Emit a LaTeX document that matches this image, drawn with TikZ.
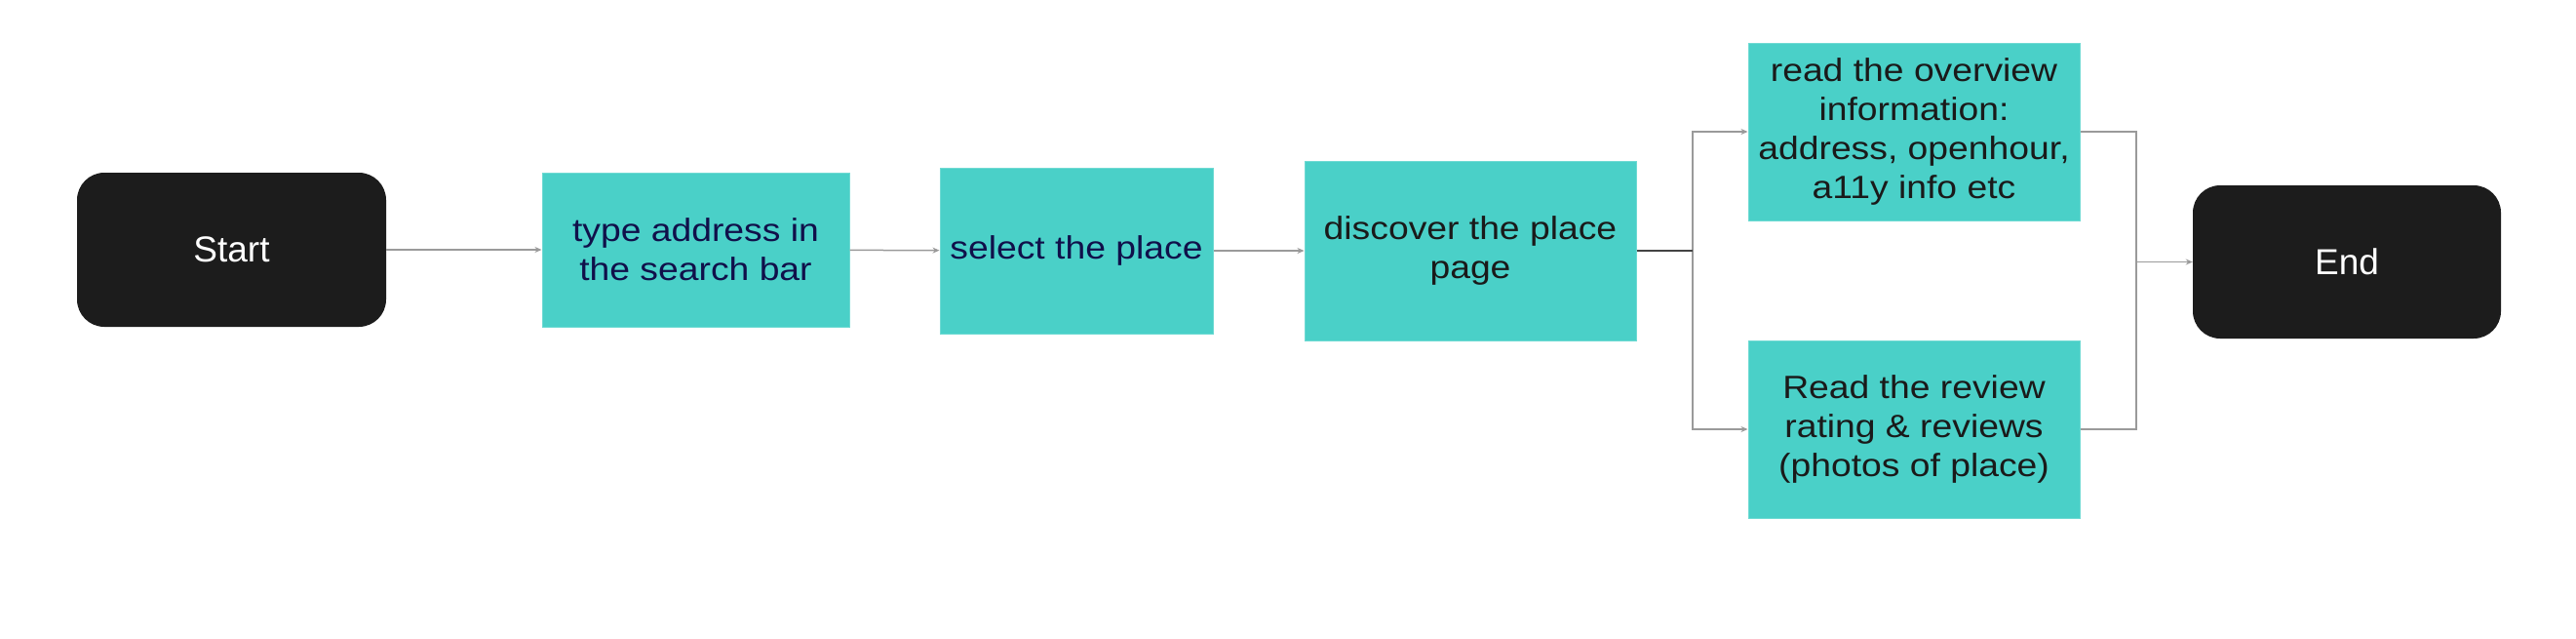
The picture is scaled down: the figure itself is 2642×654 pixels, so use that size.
\documentclass[tikz,border=0pt]{standalone}
\usepackage{fontspec}
\setmainfont{Liberation Sans}
\newfontfamily\boxfont{Liberation Sans}[FakeStretch=1.13]
\usetikzlibrary{arrows.meta}
\definecolor{tealbox}{HTML}{4AD0C8}
\definecolor{tealedge}{HTML}{6FDAD3}
\definecolor{darkbox}{HTML}{1C1C1C}
\definecolor{navytext}{HTML}{10104A}
\definecolor{boxtext}{HTML}{1A1A1A}
\definecolor{edgegray}{HTML}{9A9A9A}
\definecolor{edgedark}{HTML}{444444}
\begin{document}
\begin{tikzpicture}[x=1pt,y=-1pt,
  termbox/.style={fill=darkbox, rounded corners=28pt, inner sep=0pt, text=white,
    font=\fontsize{37}{44}\selectfont, align=center},
  stepbox/.style={fill=tealbox, draw=tealedge, line width=1pt, inner sep=0pt, text=boxtext,
    font=\boxfont\fontsize{33}{40}\selectfont, align=center},
  edge/.style={draw=edgegray, line width=1.5pt, -{Stealth[length=7pt,width=6pt]}},
  plainedge/.style={draw=edgegray, line width=1.5pt}
]
\useasboundingbox (0,0) rectangle (2642,654);
\fill[white] (0,0) rectangle (2642,654);

\node[termbox, minimum width=317pt, minimum height=158pt] (start) at (237.5,256) {Start};
\node[stepbox, text=navytext, minimum width=315pt, minimum height=158pt] (b1) at (713.5,256) {type address in\\the search bar};
\node[stepbox, text=navytext, minimum width=280pt, minimum height=170pt] (b2) at (1104,257) {select the place};
\node[stepbox, minimum width=340pt, minimum height=184pt] (b3) at (1508,257) {discover the place\\page};
\node[stepbox, minimum width=340pt, minimum height=182pt] (b4) at (1963,135) {read the overview\\information:\\address, openhour,\\a11y info etc};
\node[stepbox, minimum width=340pt, minimum height=182pt] (b5) at (1963,440) {Read the review\\rating \& reviews\\(photos of place)};
\node[termbox, minimum width=316pt, minimum height=157pt] (end) at (2407,268.5) {End};

\coordinate (split) at (1736,257);
\coordinate (merge) at (2191,268.5);

\draw[edge] (start) -- (b1);
\draw[edge] (b1) -- (b2);
\draw[edge] (b2) -- (b3);
\draw[edge] (b3.east) -- (split) |- (b4.west);
\draw[edge] (b3.east) -- (split) |- (b5.west);
\draw[plainedge, draw=edgedark] (b3.east) -- (split);
\draw[plainedge] (b4.east) -| (merge);
\draw[plainedge] (b5.east) -| (merge);
\draw[edge] (merge) -- (end.west);
\end{tikzpicture}
\end{document}
